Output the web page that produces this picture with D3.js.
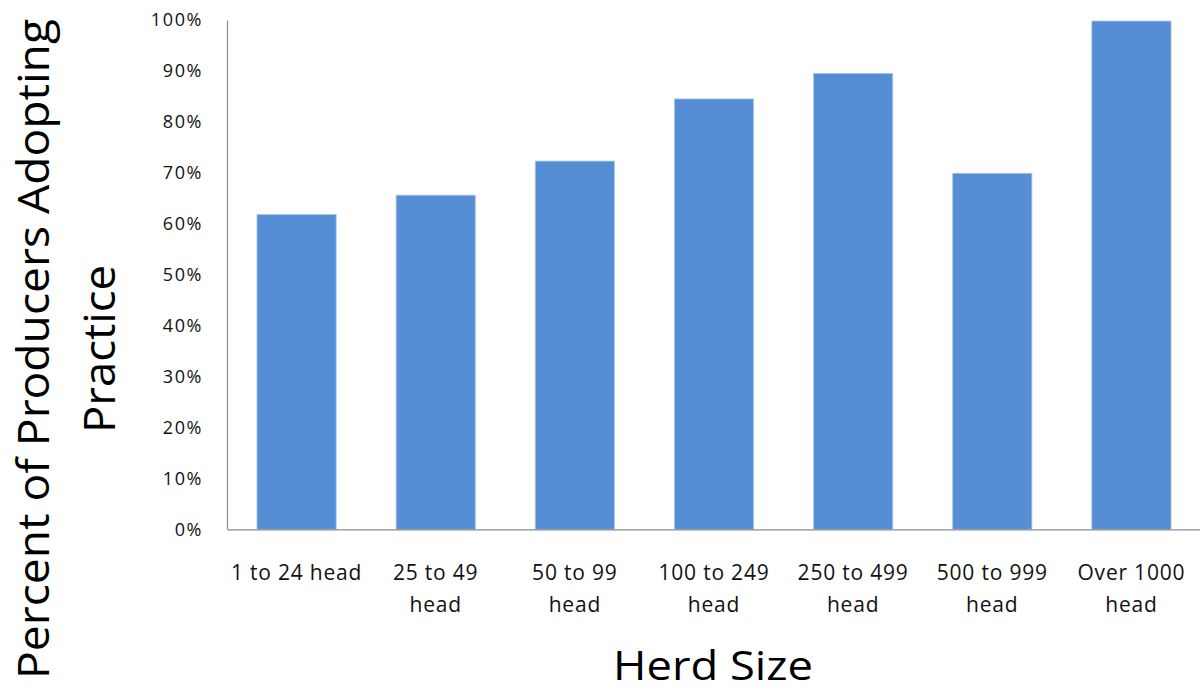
<!DOCTYPE html>
<html>
<head>
<meta charset="utf-8">
<script src="https://cdn.jsdelivr.net/npm/d3@7"></script>
<style>
  html, body { margin: 0; padding: 0; background: #fff; }
  svg { display: block; }
</style>
</head>
<body>
<svg id="chart" width="1200" height="692"></svg>
<script>
// Share of producers adopting the practice, by herd size
const categories = [
  ["1 to 24 head"],
  ["25 to 49", "head"],
  ["50 to 99", "head"],
  ["100 to 249", "head"],
  ["250 to 499", "head"],
  ["500 to 999", "head"],
  ["Over 1000", "head"]
];
const adoption = [61.8, 65.6, 72.3, 84.5, 89.5, 69.9, 99.8];
const yTicks = [0, 10, 20, 30, 40, 50, 60, 70, 80, 90, 100];
const yTitle = ["Percent of Producers Adopting", "Practice"];
const xTitle = "Herd Size";

const svg = d3.select("#chart");
const labelFont = "'Open Sans', 'DejaVu Sans', sans-serif";
const titleFont = "'Open Sans', 'DejaVu Sans', sans-serif";

const x = d3.scaleBand()
  .domain(categories.map((c, i) => i))
  .range([227, 1201])
  .paddingInner(0.431)
  .paddingOuter(0.2155);

const y = d3.scaleLinear().domain([0, 100]).range([529.3, 20]);

// bars
svg.append("g").selectAll("rect")
  .data(adoption)
  .join("rect")
  .attr("x", (d, i) => x(i))
  .attr("width", x.bandwidth())
  .attr("y", d => y(d))
  .attr("height", d => y(0) - y(d))
  .attr("fill", "#558ed5")
  .attr("stroke", "#a9c4ec")
  .attr("stroke-width", 0.8);

// y axis
const yAxis = svg.append("g")
  .attr("transform", "translate(227,0)")
  .call(d3.axisLeft(y).tickValues(yTicks).tickSize(0).tickPadding(24)
    .tickFormat(d => d + "%"));
yAxis.select(".domain").attr("stroke", "#8c8c8c").attr("stroke-width", 1.2);
yAxis.selectAll("text")
  .attr("font-family", labelFont)
  .attr("font-size", 18)
  .attr("letter-spacing", 1.6)
  .attr("fill", "#111");

// x axis baseline
const xAxis = svg.append("g")
  .attr("transform", `translate(0,${y(0)})`)
  .call(d3.axisBottom(x).tickSize(0).tickFormat(""));
xAxis.select(".domain").attr("stroke", "#8c8c8c").attr("stroke-width", 1.2);

// category labels (one or two lines)
const cat = svg.append("g").selectAll("text")
  .data(categories)
  .join("text")
  .attr("x", (d, i) => x(i) + x.bandwidth() / 2)
  .attr("y", 580)
  .attr("text-anchor", "middle")
  .attr("font-family", labelFont)
  .attr("font-size", 21)
  .attr("letter-spacing", 0.8)
  .attr("fill", "#111");
cat.selectAll("tspan")
  .data(d => d)
  .join("tspan")
  .attr("x", function() { return this.parentNode.getAttribute("x"); })
  .attr("dy", (d, j) => j === 0 ? 0 : 32)
  .text(d => d);

// axis titles
svg.append("text")
  .attr("x", 713)
  .attr("y", 680)
  .attr("text-anchor", "middle")
  .attr("font-family", titleFont)
  .attr("font-size", 40)
  .attr("textLength", 200)
  .attr("lengthAdjust", "spacingAndGlyphs")
  .attr("fill", "#000")
  .text(xTitle);

const yTitleLen = [660, 168];
const yt = svg.append("g")
  .attr("transform", "translate(0,349) rotate(-90)");
yt.selectAll("text")
  .data(yTitle)
  .join("text")
  .attr("x", 0)
  .attr("y", (d, j) => 49 + j * 66)
  .attr("text-anchor", "middle")
  .attr("font-family", titleFont)
  .attr("font-size", 44)
  .attr("textLength", (d, j) => yTitleLen[j])
  .attr("lengthAdjust", "spacingAndGlyphs")
  .attr("fill", "#000")
  .text(d => d);
</script>
</body>
</html>
